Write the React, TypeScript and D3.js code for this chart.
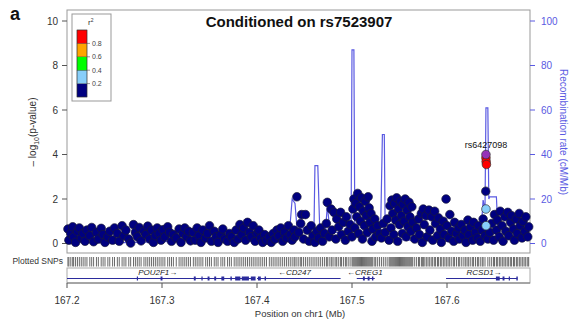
import React from "react";
import * as d3 from "d3";

// ---------- DATA ----------
const snpPos = [
  167.201,167.202,167.204,167.206,167.207,167.209,167.211,167.213,167.215,167.217,167.219,167.221,167.224,167.226,167.228,167.231,167.233,167.236,167.238,167.240,167.243,167.245,167.248,167.250,167.253,167.255,167.258,167.260,167.262,167.265,167.267,167.270,167.272,167.274,167.276,167.278,167.281,167.283,167.285,167.287,167.289,167.291,167.293,167.295,167.297,167.299,167.301,167.303,167.306,167.308,167.310,167.312,167.315,167.318,167.320,167.322,167.324,167.326,167.328,167.330,
  167.333,167.335,167.337,167.339,167.341,167.343,167.346,167.348,167.350,167.352,167.355,167.357,167.359,167.362,167.364,167.366,167.369,167.371,167.373,167.376,167.378,167.380,167.382,167.384,167.386,167.388,167.390,167.392,167.394,167.396,167.398,167.400,167.402,167.404,167.406,167.408,167.410,167.413,167.415,167.417,167.419,167.421,167.423,167.425,167.427,167.429,167.431,167.433,167.435,167.437,167.439,167.440,167.442,167.444,167.446,
  167.447,167.449,167.451,167.453,167.455,167.457,167.459,167.461,167.463,167.465,167.467,167.469,167.471,167.473,167.474,167.476,167.478,167.479,167.481,167.483,167.484,167.486,167.488,167.489,167.491,167.493,167.494,167.496,167.498,167.500,167.501,167.502,167.503,167.504,167.505,167.506,167.507,167.508,167.509,167.510,167.511,167.512,167.513,167.514,167.515,167.516,167.517,167.518,167.519,167.520,167.521,167.522,167.524,167.525,167.527,167.529,
  167.531,167.533,167.535,167.537,167.539,167.540,167.541,167.542,167.543,167.544,167.545,167.546,167.547,167.548,167.549,167.550,167.551,167.552,167.553,167.554,167.555,167.556,167.557,167.558,167.559,167.560,167.561,167.562,167.563,167.564,167.566,167.568,167.570,167.571,167.573,167.574,167.575,167.576,167.578,167.579,167.581,167.582,167.584,167.585,167.587,167.588,167.590,167.591,167.593,167.594,167.596,167.597,167.599,167.600,167.602,167.603,167.605,167.607,167.608,167.610,167.612,167.613,167.615,167.617,167.619,167.620,167.622,167.623,167.625,167.627,167.628,167.630,167.632,167.633,167.635,167.637,167.638,167.640,167.643,167.645,167.647,167.649,167.650,167.652,167.653,167.655,167.656,167.658,167.659,167.661,167.662,167.664,167.665,167.667,167.668,167.670,167.671,167.673,167.674,167.676,167.677,167.679,167.680,167.682,167.683,167.685,167.686
];
const snpLogP = [
  0.65,0.15,0.45,0.75,0.30,0.05,0.55,0.70,0.25,0.45,0.10,0.60,0.35,0.72,0.08,0.50,0.20,0.68,0.40,0.05,0.30,0.55,0.15,0.70,0.45,0.10,0.80,0.35,0.60,0.20,0.02,0.85,0.50,0.30,0.72,0.12,0.55,0.40,0.78,0.20,0.60,0.05,0.35,0.70,0.45,0.15,0.62,0.30,0.75,0.50,0.10,0.40,0.25,0.65,0.05,0.45,0.70,0.30,0.55,0.12,
  0.50,0.15,0.70,0.35,0.05,0.60,0.25,0.45,0.80,0.10,0.55,0.30,0.05,0.40,0.65,0.20,0.10,0.45,0.30,0.05,0.60,0.20,0.85,0.40,0.70,0.15,0.95,0.50,0.30,0.80,0.10,0.45,0.60,0.25,0.05,0.40,0.15,0.30,0.05,0.45,0.20,0.60,0.35,0.70,0.10,0.50,0.25,0.80,0.40,0.15,0.60,0.30,2.10,0.50,0.90,
  1.30,0.20,1.30,0.60,0.10,0.80,0.35,0.05,0.55,0.25,0.70,0.10,0.45,0.90,1.85,0.30,1.55,0.60,1.40,0.20,1.10,0.75,1.40,0.40,0.95,0.15,1.20,0.55,0.85,0.30,1.55,2.00,0.70,1.80,1.20,2.25,0.45,1.65,1.00,2.05,0.20,1.45,0.80,1.90,1.25,0.50,2.10,1.60,0.95,1.35,0.10,0.65,1.10,0.30,0.80,0.45,
  0.25,0.90,0.50,1.10,0.15,1.70,0.70,1.95,1.35,0.40,1.80,1.05,2.05,0.10,1.55,0.85,1.90,1.25,0.45,1.75,1.00,2.00,0.30,1.50,0.75,1.85,1.20,0.55,1.65,0.95,0.20,0.70,1.10,0.40,1.35,0.05,1.55,0.85,1.25,0.30,1.50,0.60,1.20,0.15,1.45,0.90,0.35,1.15,0.65,0.05,1.00,0.40,2.00,0.80,0.25,1.30,0.55,0.10,0.95,0.45,0.70,0.20,0.85,0.35,0.60,0.05,1.05,0.40,0.75,0.15,0.95,0.50,0.25,0.80,0.10,0.60,1.10,0.35,0.20,0.50,0.90,0.15,1.30,0.60,1.05,0.30,1.45,0.80,0.10,1.20,0.55,1.40,0.35,0.95,1.25,0.65,0.15,1.10,0.45,1.35,0.80,0.25,1.00,0.55,1.20,0.30,0.75
];
// SNPs in LD with the index SNP (coloured by r2)
const ldPos = [167.641, 167.6412, 167.6415, 167.6408, 167.6410, 167.6411];
const ldLogP = [3.85, 3.68, 3.55, 2.35, 1.55, 0.80];
const ldR2 = [0.92, 0.90, 0.88, 0.10, 0.30, 0.30];
const indexSnp = { name: "rs6427098", pos: 167.641, logp: 4.0 };

const recPos = [167.200,167.250,167.300,167.345,167.393,167.395,167.398,167.400,167.430,167.434,167.437,167.440,167.442,167.444,167.460,167.461,167.464,167.466,167.472,167.474,167.477,167.480,167.499,167.500,167.502,167.503,167.530,167.532,167.534,167.535,167.560,167.600,167.630,167.636,167.638,167.640,167.641,167.643,167.644,167.645,167.652,167.654,167.687];
const recRate = [0.5,0.3,0.8,1.2,1.0,9.5,9.5,1.5,2.0,4.0,20.0,18.0,7.5,7.0,7.0,35.0,35.0,7.0,5.0,17.0,5.0,5.0,5.0,87.0,87.0,3.0,3.0,49.0,49.0,2.0,1.5,1.0,1.0,6.0,19.5,15.0,61.0,61.0,20.0,21.0,21.0,2.0,1.5];

const xTicks = [167.2, 167.3, 167.4, 167.5, 167.6];
const yTicks = [0, 2, 4, 6, 8, 10];
const recTicks = [0, 20, 40, 60, 80, 100];

const genes = [
  { name: "POU2F1", start: 167.190, end: 167.396, strand: "+", labelX: 167.2955 },
  { name: "CD247", start: 167.400, end: 167.488, strand: "-", labelX: 167.4395 },
  { name: "CREG1", start: 167.505, end: 167.524, strand: "-", labelX: 167.5135 },
  { name: "RCSD1", start: 167.599, end: 167.674, strand: "+", labelX: 167.639 },
];
const exonStart = [167.2735,167.2985,167.3335,167.3415,167.348,167.355,167.3625,167.372,167.377,167.384,167.3935,167.401,167.408,167.5115,167.5165,167.521,167.6515,167.6585,167.665,167.673];
const exonEnd =   [167.2745,167.3005,167.3355,167.3425,167.350,167.357,167.3655,167.3735,167.3825,167.3915,167.3985,167.404,167.4095,167.5135,167.5185,167.5225,167.6555,167.6605,167.666,167.6745];

const legendBreaks = [0, 0.2, 0.4, 0.6, 0.8, 1];
const legendColors = ["#000080", "#87CEFA", "#00FF00", "#FFA500", "#FF0000"];
const legendLabels = ["0.2", "0.4", "0.6", "0.8"];

// ---------- LAYOUT ----------
const W = 571, H = 321;
const L = 67, R = 530, T = 10, B = 253;
const FONT = "'Liberation Sans', Arial, Helvetica, sans-serif";
const REC_COLOR = "#5a5ae2";
const AX_COLOR = "#333";

export default function App() {
  const x = d3.scaleLinear().domain([167.2, 167.2 + (R - L) / 950]).range([L, R]);
  const y = d3.scaleLinear().domain([0, 10]).range([243.5, 21]);
  const yRec = d3.scaleLinear().domain([0, 100]).range([243.5, 21]);
  const color = d3.scaleThreshold<number, string>().domain([0.2, 0.4, 0.6, 0.8]).range(legendColors);
  const recLine = d3.line<number>().x((_, i) => x(recPos[i])).y((d) => yRec(d));
  const legY = d3.scaleLinear().domain([0, 1]).range([97, 30]);

  const geneY = 278.5;
  return (
    <svg width={W} height={H} style={{ position: "absolute", left: 0, top: 0, fontFamily: FONT }}>
      <rect x={0} y={0} width={W} height={H} fill="#fff" />
      <text x={10} y={20} fontSize={18} fontWeight="bold" fill="#111">a</text>
      {/* plot box */}
      <rect x={L} y={T} width={R - L} height={B - T} fill="#fff" stroke="#999" strokeWidth={1} />
      <text x={299} y={27} textAnchor="middle" fontSize={15} fontWeight="bold" fill="#111">Conditioned on rs7523907</text>

      {/* left axis */}
      {yTicks.map((t) => (
        <g key={"yt" + t}>
          <line x1={L - 5} x2={L} y1={y(t)} y2={y(t)} stroke="#555" />
          <text x={L - 9} y={y(t) + 3.5} textAnchor="end" fontSize={10} fill={AX_COLOR}>{t}</text>
        </g>
      ))}
      <text transform={`translate(36,132) rotate(-90)`} textAnchor="middle" fontSize={10} fill={AX_COLOR}>
        – log<tspan fontSize={7} dy={2.5}>10</tspan><tspan dy={-2.5}>(p-value)</tspan>
      </text>

      {/* right axis */}
      {recTicks.map((t) => (
        <g key={"rt" + t}>
          <line x1={R} x2={R + 5} y1={yRec(t)} y2={yRec(t)} stroke={REC_COLOR} />
          <text x={R + 11} y={yRec(t) + 3.5} fontSize={10} fill={REC_COLOR}>{t}</text>
        </g>
      ))}
      <text transform={`translate(560,132) rotate(90)`} textAnchor="middle" fontSize={10} fill={REC_COLOR}>
        Recombination rate (cM/Mb)
      </text>

      {/* recombination line */}
      <path d={recLine(recRate) || ""} fill="none" stroke={REC_COLOR} strokeWidth={1.2} />

      {/* SNPs */}
      {snpPos.map((p, i) => (
        <circle key={"s" + i} cx={x(p)} cy={y(snpLogP[i])} r={4.3} fill={color(0.1)} stroke="#1a1a3a" strokeWidth={0.7} />
      ))}
      {ldPos.map((p, i) => (
        <circle key={"ld" + i} cx={x(p)} cy={y(ldLogP[i])} r={4.3} fill={color(ldR2[i])} stroke="#333" strokeWidth={0.7} />
      ))}
      <circle cx={x(indexSnp.pos)} cy={y(indexSnp.logp)} r={4.3} fill="#9632B8" stroke="#333" strokeWidth={0.7} />
      <text x={x(indexSnp.pos)} y={y(indexSnp.logp) - 7} textAnchor="middle" fontSize={9} fill="#111">{indexSnp.name}</text>

      {/* legend */}
      <rect x={72} y={14} width={39} height={87} fill="#fff" stroke="#999" />
      {legendColors.map((c, i) => (
        <rect key={"lg" + i} x={77} y={legY(legendBreaks[i + 1])} width={10} height={legY(legendBreaks[i]) - legY(legendBreaks[i + 1])} fill={c} stroke="#333" strokeWidth={0.3} />
      ))}
      <rect x={77} y={30} width={10} height={67} fill="none" stroke="#333" strokeWidth={0.5} />
      {legendLabels.map((l) => (
        <g key={"ll" + l}>
          <line x1={87} x2={90} y1={legY(+l)} y2={legY(+l)} stroke="#555" strokeWidth={0.6} />
          <text x={92} y={legY(+l) + 2.5} fontSize={7} fill="#444">{l}</text>
        </g>
      ))}
      <text x={88} y={25} fontSize={8} fill="#333">r<tspan fontSize={5} dy={-3}>2</tspan></text>

      {/* plotted SNPs track */}
      <text x={L - 4} y={264} textAnchor="end" fontSize={8.5} fill={AX_COLOR}>Plotted SNPs</text>
      {snpPos.map((p, i) => (
        <line key={"pt" + i} x1={x(p)} x2={x(p)} y1={257} y2={266.5} stroke="#444" strokeWidth={0.8} />
      ))}

      {/* gene track */}
      <rect x={L} y={268} width={R - L} height={15} fill="#fff" stroke="#aaa" />
      {genes.map((g) => (
        <g key={g.name}>
          <line x1={Math.max(L, x(g.start))} x2={x(g.end)} y1={geneY} y2={geneY} stroke="#2b2b9c" strokeWidth={1} />
          <text x={x(g.labelX)} y={275} textAnchor="middle" fontSize={8} fontStyle="italic" fill="#222">
            {g.strand === "+" ? `${g.name}→` : `←${g.name}`}
          </text>
        </g>
      ))}
      {exonStart.map((s, i) => (
        <rect key={"ex" + i} x={x(s)} y={geneY - 2} width={Math.max(1.2, x(exonEnd[i]) - x(s))} height={4} fill="#2b2b9c" />
      ))}

      {/* x axis */}
      <line x1={L} x2={R} y1={283} y2={283} stroke="#777" />
      {xTicks.map((t) => (
        <g key={"xt" + t}>
          <line x1={x(t)} x2={x(t)} y1={283} y2={288} stroke="#555" />
          <text x={x(t)} y={304} textAnchor="middle" fontSize={10} fill={AX_COLOR}>{t.toFixed(1)}</text>
        </g>
      ))}
      <text x={300} y={317} textAnchor="middle" fontSize={9.5} fill={AX_COLOR}>Position on chr1 (Mb)</text>
    </svg>
  );
}
